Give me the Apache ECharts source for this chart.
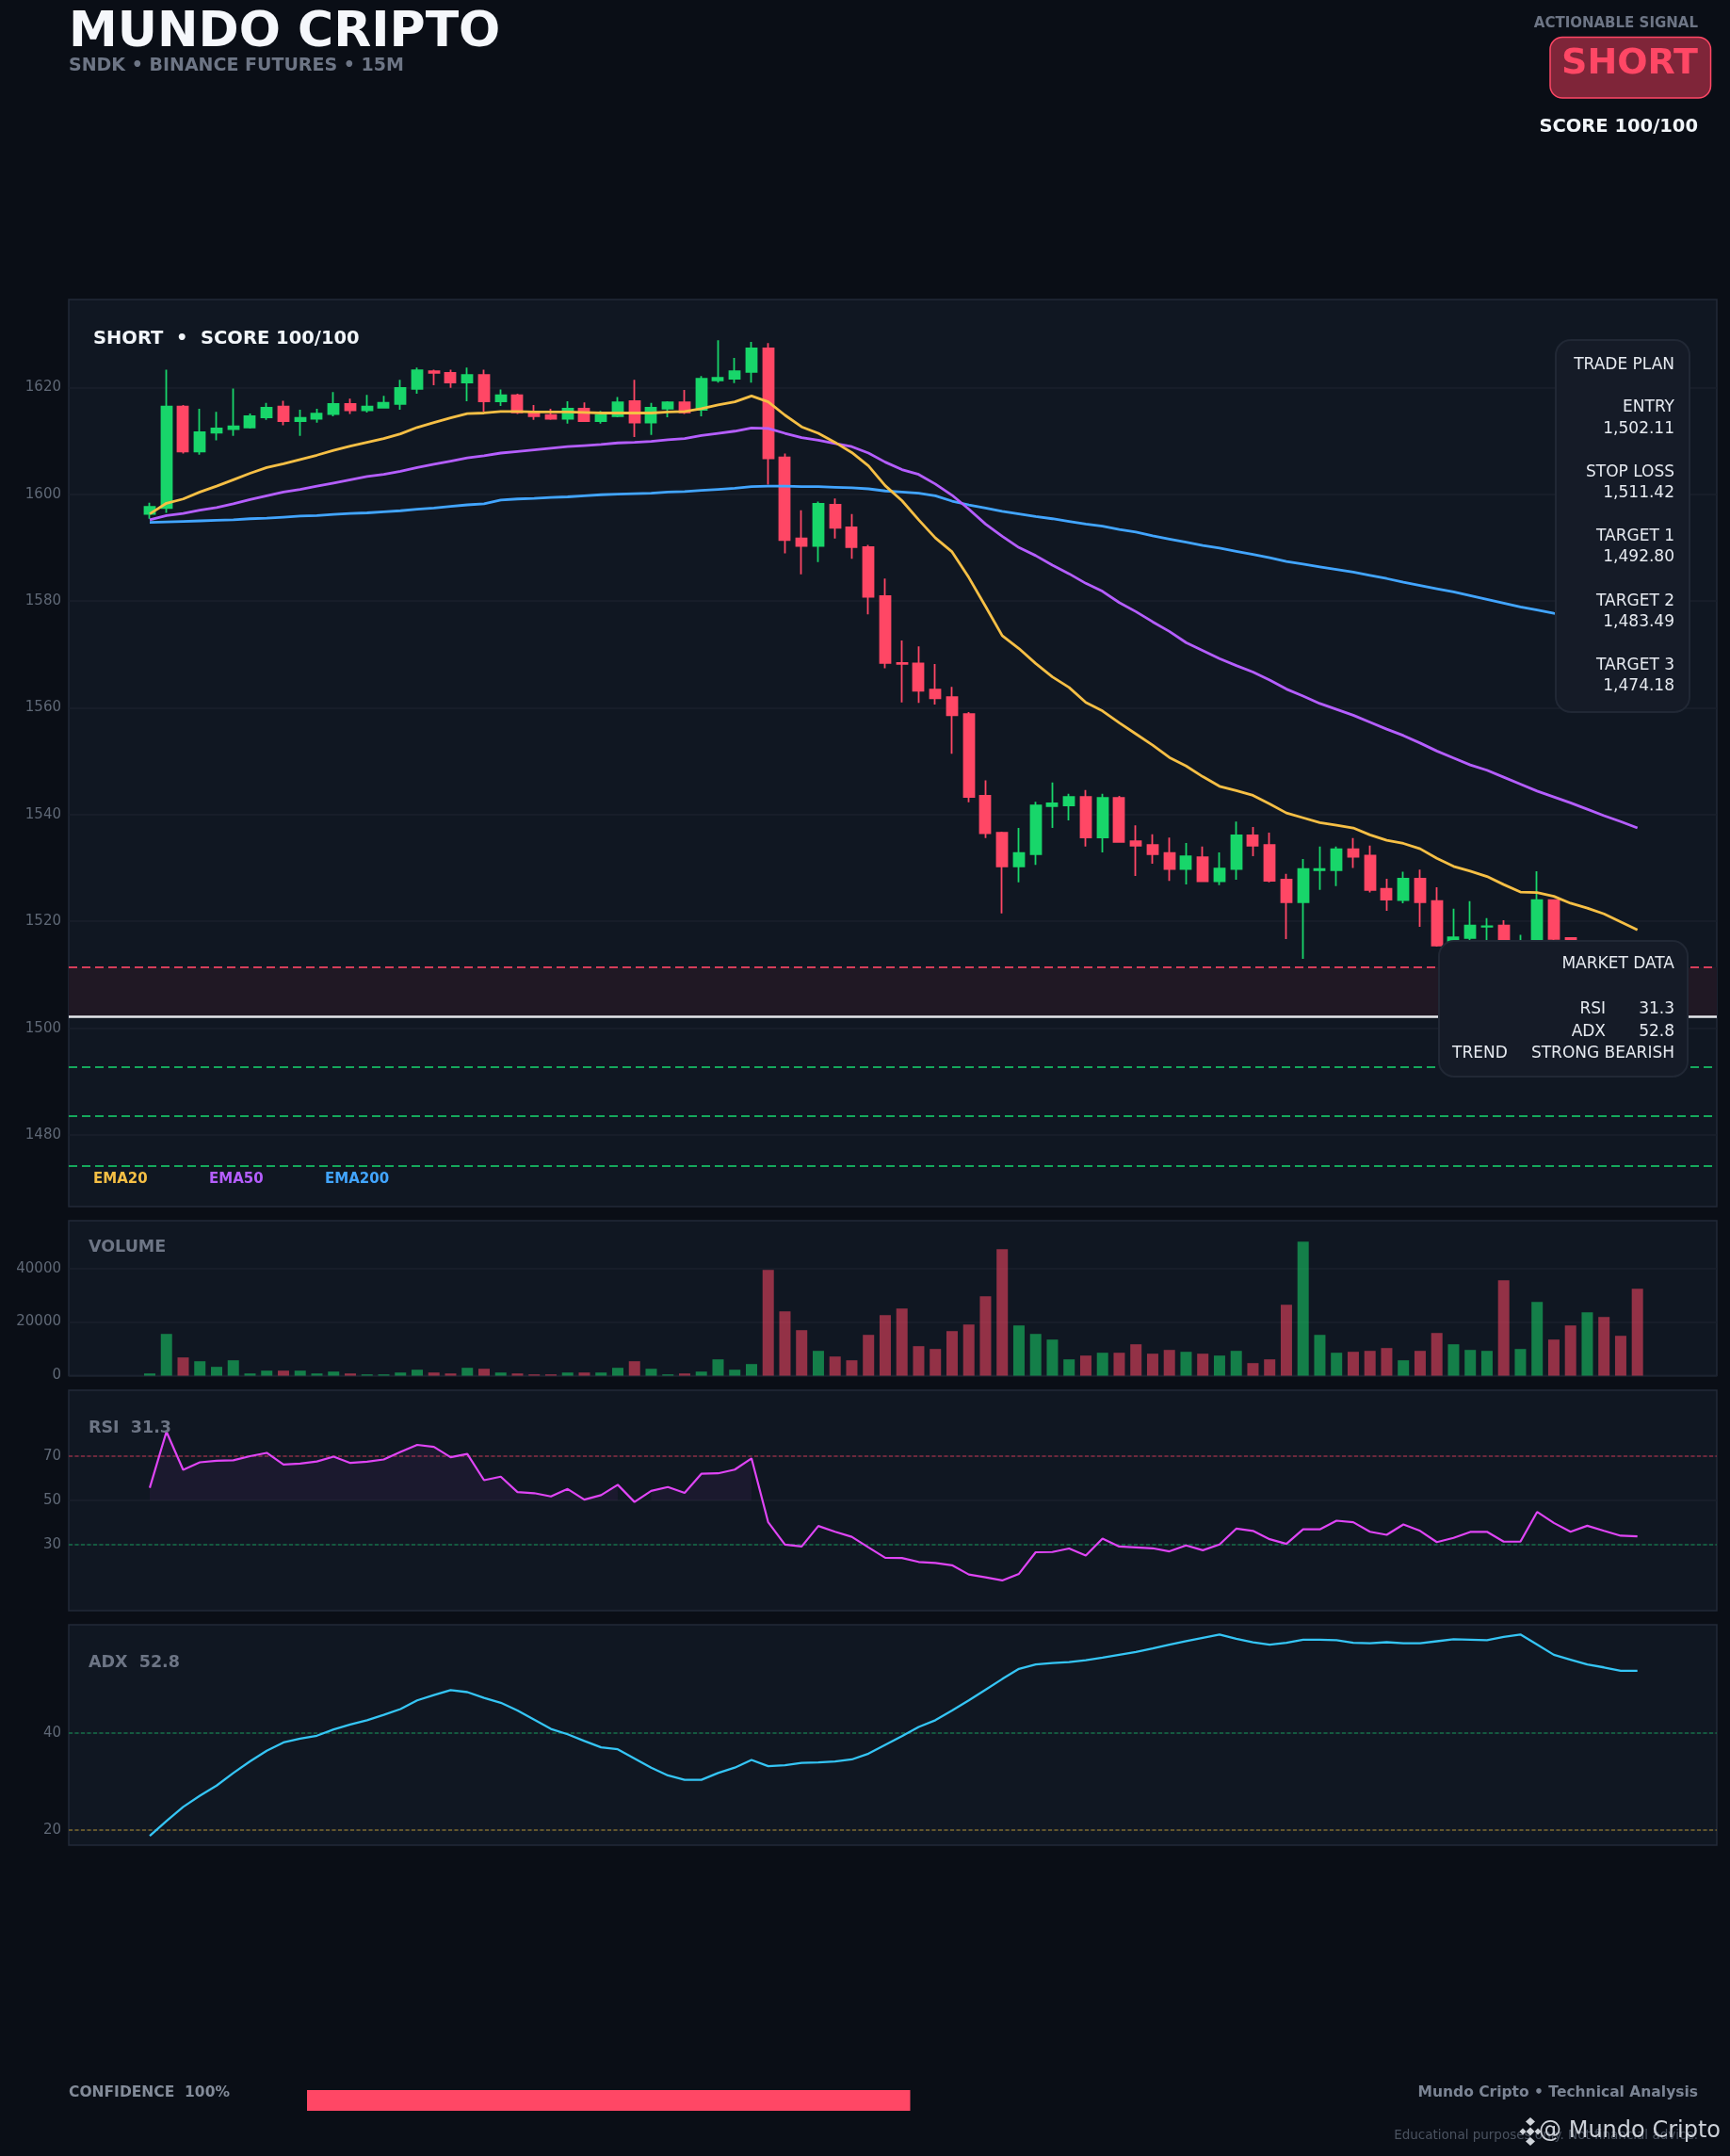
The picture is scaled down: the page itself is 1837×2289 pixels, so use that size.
<!DOCTYPE html>
<html><head><meta charset="utf-8">
<style>html,body{margin:0;padding:0;background:#0a0e16}#c{width:1837px;height:2289px}</style>
<script src="https://cdn.jsdelivr.net/npm/echarts@6/dist/echarts.min.js"></script>
</head><body><div id="c"></div>
<script>
const opens=[1596.3,1597.4,1616.4,1608.0,1611.5,1612.2,1612.5,1614.4,1616.4,1613.7,1614.1,1615.0,1616.9,1615.7,1616.2,1616.9,1619.7,1623.0,1622.7,1620.9,1622.3,1617.4,1618.5,1615.3,1614.8,1614.1,1616.0,1613.7,1614.6,1617.4,1613.4,1616.0,1617.2,1615.8,1621.3,1621.6,1622.9,1627.3,1606.9,1591.7,1590.3,1598.0,1593.8,1590.1,1580.9,1568.4,1568.3,1563.4,1562.0,1558.8,1543.5,1536.6,1530.3,1532.6,1541.6,1541.7,1543.3,1535.7,1543.1,1535.0,1534.3,1532.8,1529.8,1532.0,1527.5,1529.8,1536.1,1534.3,1527.8,1523.6,1529.6,1529.6,1533.5,1532.3,1526.1,1524.0,1528.0,1523.8,1515.6,1516.9,1519.0,1519.2,1514.0,1515.0,1524.0,1516.9,1514.5,1515.0,1513.0,1508.0];
const closes=[1597.6,1616.4,1608.0,1611.6,1612.3,1612.7,1614.6,1616.2,1613.7,1614.3,1615.1,1616.9,1615.7,1616.4,1617.1,1619.9,1623.2,1622.7,1620.9,1622.3,1617.4,1618.5,1615.3,1614.6,1614.1,1616.0,1613.7,1614.8,1617.2,1613.4,1616.2,1617.2,1615.3,1621.6,1621.8,1623.0,1627.3,1606.7,1591.4,1590.3,1598.2,1593.7,1590.1,1580.8,1568.4,1568.2,1563.2,1561.8,1558.6,1543.3,1536.5,1530.3,1532.8,1541.7,1542.1,1543.3,1535.7,1543.1,1534.9,1534.2,1532.6,1529.8,1532.2,1527.5,1529.9,1536.1,1534.2,1527.6,1523.6,1529.8,1529.8,1533.5,1532.1,1525.9,1524.1,1528.0,1523.6,1515.5,1517.0,1519.2,1519.1,1516.5,1515.0,1524.0,1516.7,1515.5,1515.5,1513.0,1508.0,1502.11];
const lows=[1595.4,1596.5,1607.6,1607.4,1610.1,1610.9,1612.3,1613.9,1612.9,1610.9,1613.4,1614.6,1615.0,1615.3,1616.2,1615.8,1618.8,1620.4,1619.9,1617.4,1615.4,1616.5,1615.0,1613.9,1613.9,1613.2,1613.5,1613.2,1614.4,1610.7,1611.1,1614.4,1615.0,1614.6,1620.9,1620.8,1620.9,1601.8,1588.9,1585.0,1587.3,1591.7,1587.9,1577.5,1567.4,1561.0,1560.9,1560.6,1551.4,1542.3,1535.6,1521.5,1527.3,1530.6,1537.5,1538.9,1534.0,1532.9,1534.9,1528.5,1530.8,1527.6,1526.9,1527.5,1526.8,1527.8,1532.2,1527.3,1516.7,1513.0,1525.9,1526.6,1530.0,1525.4,1522.0,1523.4,1519.0,1515.3,1514.0,1516.5,1516.0,1515.0,1513.0,1514.0,1516.4,1515.0,1512.9,1512.1,1507.0,1501.5];
const highs=[1598.4,1623.3,1616.7,1616.0,1615.4,1619.8,1615.1,1617.1,1617.5,1615.8,1616.0,1619.1,1617.9,1618.6,1618.4,1621.4,1623.7,1623.3,1623.3,1623.7,1623.3,1619.6,1618.8,1616.7,1616.0,1617.4,1617.2,1615.6,1618.2,1621.4,1617.1,1617.4,1619.5,1622.1,1628.8,1625.5,1628.5,1628.3,1607.6,1597.0,1598.6,1599.2,1596.3,1590.5,1584.2,1572.6,1571.5,1568.2,1563.9,1559.2,1546.4,1536.8,1537.5,1542.4,1546.0,1543.9,1544.6,1543.9,1543.5,1538.0,1536.3,1535.7,1534.7,1534.0,1532.9,1538.7,1537.7,1536.6,1528.9,1531.7,1534.0,1534.0,1535.6,1534.2,1528.0,1529.3,1529.7,1526.4,1522.4,1523.8,1520.6,1520.2,1517.5,1529.4,1524.0,1517.0,1515.8,1515.9,1513.5,1508.5];
const volumes=[820,15560,6790,5380,3280,5730,820,1870,1870,1870,820,1520,820,470,470,1170,2220,1170,820,2925,2570,1170,820,470,470,1170,1170,1170,2925,5380,2570,470,820,1520,6080,2220,4330,39430,23985,16965,9240,7140,5730,15210,22580,25040,11000,9945,16615,19070,29600,47150,18720,15560,13455,6080,7490,8540,8540,11700,8190,9590,8890,8190,7490,9240,4680,6080,26440,49960,15210,8540,8890,9240,10300,5730,9240,15910,11700,9590,9240,35570,9945,27500,13455,18720,23630,21880,14860,32400];
const ema20=[1596.3,1598.3,1599.1,1600.4,1601.5,1602.7,1603.9,1605.0,1605.7,1606.5,1607.3,1608.2,1609.0,1609.7,1610.4,1611.3,1612.5,1613.4,1614.3,1615.1,1615.2,1615.5,1615.5,1615.4,1615.4,1615.4,1615.3,1615.2,1615.2,1615.2,1615.2,1615.4,1615.5,1616.0,1616.7,1617.3,1618.4,1617.3,1614.8,1612.6,1611.4,1609.7,1607.8,1605.3,1601.6,1598.8,1595.2,1591.8,1589.2,1584.4,1579.0,1573.5,1571.1,1568.3,1565.8,1563.8,1561.0,1559.4,1557.2,1555.1,1553.0,1550.7,1549.1,1547.1,1545.3,1544.5,1543.6,1542.0,1540.3,1539.4,1538.5,1538.0,1537.5,1536.2,1535.2,1534.6,1533.6,1531.8,1530.3,1529.4,1528.4,1526.9,1525.5,1525.4,1524.7,1523.4,1522.5,1521.4,1519.9,1518.4];
const ema50=[1595.2,1596.0,1596.4,1597.0,1597.5,1598.2,1599.0,1599.7,1600.4,1600.9,1601.5,1602.1,1602.7,1603.3,1603.7,1604.3,1605.0,1605.6,1606.2,1606.8,1607.2,1607.7,1608.0,1608.3,1608.6,1608.9,1609.1,1609.3,1609.6,1609.7,1609.9,1610.2,1610.4,1611.0,1611.4,1611.8,1612.4,1612.3,1611.4,1610.6,1610.1,1609.5,1608.9,1607.7,1606.0,1604.6,1603.7,1601.9,1599.8,1597.2,1594.4,1592.1,1590.0,1588.5,1586.7,1585.1,1583.3,1581.8,1579.7,1578.0,1576.1,1574.3,1572.2,1570.7,1569.2,1567.9,1566.7,1565.2,1563.5,1562.2,1560.8,1559.7,1558.6,1557.3,1556.0,1554.8,1553.4,1551.9,1550.6,1549.3,1548.3,1547.0,1545.7,1544.4,1543.3,1542.2,1541.0,1539.8,1538.7,1537.5];
const ema200=[1594.7,1594.8,1594.9,1595.0,1595.1,1595.2,1595.4,1595.5,1595.7,1595.9,1596.0,1596.2,1596.4,1596.5,1596.7,1596.9,1597.2,1597.4,1597.7,1598.0,1598.2,1598.9,1599.1,1599.2,1599.4,1599.5,1599.7,1599.9,1600.0,1600.1,1600.2,1600.4,1600.5,1600.7,1600.9,1601.1,1601.4,1601.5,1601.5,1601.4,1601.4,1601.3,1601.2,1601.0,1600.6,1600.4,1600.2,1599.7,1598.7,1598.0,1597.4,1596.8,1596.3,1595.8,1595.4,1594.9,1594.4,1594.0,1593.4,1592.9,1592.2,1591.6,1591.0,1590.4,1589.9,1589.3,1588.7,1588.1,1587.4,1586.9,1586.4,1585.9,1585.4,1584.8,1584.2,1583.5,1582.9,1582.3,1581.7,1581.0,1580.3,1579.6,1578.9,1578.3,1577.7,1577.2,1576.6,1576.1,1575.5,1575.0];
const rsi=[55.7,81.2,63.9,67.3,68.0,68.2,70.1,71.6,66.3,66.7,67.7,69.9,67.0,67.6,68.6,72.0,75.2,74.3,69.6,71.1,59.2,60.8,53.8,53.3,51.8,55.2,50.4,52.4,57.1,49.3,54.3,56.1,53.4,62.1,62.3,64.0,69.1,40.1,30.0,29.1,38.4,35.8,33.5,28.7,24.0,23.9,22.1,21.6,20.6,16.4,15.1,13.7,16.7,26.5,26.6,28.2,25.0,32.7,29.1,28.7,28.3,26.9,29.6,27.4,30.0,37.2,36.2,32.4,30.3,36.9,36.9,40.8,40.1,35.8,34.4,39.1,36.2,31.1,33.0,35.7,35.8,31.3,31.3,44.8,39.8,35.8,38.5,36.2,34.0,33.7];
const adx=[18.8,21.9,24.8,27.1,29.2,31.8,34.2,36.4,38.1,38.9,39.5,40.8,41.8,42.7,43.8,45.0,46.8,47.9,48.9,48.5,47.3,46.3,44.7,42.8,40.9,39.8,38.4,37.1,36.7,34.8,32.9,31.3,30.4,30.4,31.8,32.9,34.5,33.2,33.4,33.9,34.0,34.2,34.6,35.8,37.6,39.4,41.3,42.7,44.7,46.8,49.0,51.2,53.3,54.2,54.5,54.7,55.1,55.6,56.2,56.8,57.5,58.3,59.0,59.7,60.4,59.5,58.8,58.3,58.7,59.3,59.3,59.2,58.7,58.6,58.8,58.6,58.6,59.0,59.4,59.3,59.2,59.9,60.4,58.3,56.2,55.2,54.2,53.6,52.9,52.9];

const priceTicks=[1480,1500,1520,1540,1560,1580,1600,1620];
const volumeTicks=[0,20000,40000];
const rsiTicks=[30,50,70];
const adxTicks=[20,40];
const ENTRY=1502.11, STOP=1511.42, TP1=1492.80, TP2=1483.49, TP3=1474.18;
const tradePlan=[["TRADE PLAN",388],["ENTRY",433],["1,502.11",455.5],["STOP LOSS",502],["1,511.42",524],["TARGET 1",570],["1,492.80",592],["TARGET 2",638.5],["1,483.49",660.5],["TARGET 3",707],["1,474.18",729]];

const F='"DejaVu Sans"';
const UP='#18d66a',DN='#ff4765',BG='#0a0e16',PANEL='#101722',BORDER='#222a38',GRID='#1a212d',AXT='#5f6876',MUTED='#6d7585';
const xMin=-4.845,xMax=93.75;
const idx=opens.map((_,i)=>i);
const grids=[
 {left:73,width:1750,top:318,height:963},
 {left:73,width:1750,top:1296,height:164.5},
 {left:73,width:1750,top:1476,height:234},
 {left:73,width:1750,top:1725,height:234}
].map(g=>Object.assign(g,{show:true,backgroundColor:PANEL,borderColor:BORDER,borderWidth:1.5,containLabel:false}));
const xAxes=grids.map((_,i)=>({type:'value',gridIndex:i,min:xMin,max:xMax,show:false,splitLine:{show:false}}));
function yA(i,min,max,ticks){return {type:'value',gridIndex:i,min,max,scale:true,
 axisLine:{show:false},axisTick:{show:false,customValues:ticks},
 axisLabel:{customValues:ticks,color:AXT,fontFamily:F,fontSize:15,margin:8,formatter:v=>String(v),showMinLabel:true,showMaxLabel:true},
 splitLine:{show:true,lineStyle:{color:GRID,width:1.5}}};}
const yAxes=[yA(0,1466.6,1636.45,priceTicks),yA(1,0,57800,volumeTicks),yA(2,0,100,rsiTicks),yA(3,16.9,62.4,adxTicks)];
function ml(v,color,width,type){return {yAxis:v,lineStyle:{color,width,type,opacity:1}};}
function line(name,arr,color,width,g,z){return {name,type:'line',xAxisIndex:g,yAxisIndex:g,data:arr.map((v,i)=>[i,v]),showSymbol:false,symbol:'none',silent:true,z:z||4,lineStyle:{color,width},itemStyle:{color},animation:false};}
function tag(text,x,price,fg,border,bg,extra){return {value:[x,price],label:Object.assign({show:true,position:'left',distance:0,formatter:text,color:fg,fontFamily:F,fontWeight:'bold',fontSize:15,lineHeight:16,padding:[3,9,3,9],backgroundColor:bg,borderColor:border,borderWidth:1.5,borderRadius:4},extra||{})};}
const tagX=89.53;
const tags=[
 tag('SL 1,511.42',tagX,STOP,DN,'#c83a55','#111722'),
 tag('ENTRY 1,502.11',tagX,ENTRY,'#f5f7fa','#b8bdc6','#0b1018'),
 tag('TP1 1,492.80',tagX,TP1,UP,'#15a85c','#0f1a20'),
 tag('TP2 1,483.49',tagX,TP2,UP,'#15a85c','#0f1a20'),
 tag('TP3 1,474.18',tagX,TP3,UP,'#15a85c','#0f1a20'),
 tag('INVALIDATION / TRAP ZONE',91.5,1534.55,DN,'#76283c','#331a28',{padding:[5,6,5,7],fontSize:15})
];
const series=[
 {name:'levels',type:'line',xAxisIndex:0,yAxisIndex:0,data:[],silent:true,z:1,
  markArea:{silent:true,z:1,itemStyle:{color:'#201824'},data:[[{yAxis:STOP},{yAxis:ENTRY}]]},
  markLine:{silent:true,z:2,symbol:'none',animation:false,label:{show:false},data:[
   ml(STOP,'#d53d5a',2,[9,5]),ml(ENTRY,'#e5e7eb',2.5,'solid'),ml(TP1,'#15a85c',2,[9,5]),ml(TP2,'#15a85c',2,[9,5]),ml(TP3,'#15a85c',2,[9,5])]}},
 {name:'SNDK',type:'candlestick',xAxisIndex:0,yAxisIndex:0,z:3,silent:true,barWidth:11.5,animation:false,
  data:idx.map(i=>[i,opens[i],closes[i],lows[i],highs[i]]),
  itemStyle:{color:UP,color0:DN,borderColor:UP,borderColor0:DN,borderWidth:1.8}},
 line('EMA200',ema200,'#42a5ff',2.8,0),line('EMA50',ema50,'#b55eff',2.8,0),line('EMA20',ema20,'#f6bf45',2.8,0),
 {name:'tags',type:'scatter',xAxisIndex:0,yAxisIndex:0,z:30,silent:true,symbolSize:1,itemStyle:{opacity:0},data:tags,animation:false},
 {name:'VOLUME',type:'bar',xAxisIndex:1,yAxisIndex:1,barWidth:12,z:3,silent:true,animation:false,
  data:idx.map(i=>({value:[i,volumes[i]],itemStyle:{color:closes[i]>=opens[i]?UP:DN,opacity:0.55}}))},
 {name:'RSIfill',type:'line',xAxisIndex:2,yAxisIndex:2,showSymbol:false,symbol:'none',silent:true,z:2,animation:false,connectNulls:false,
  data:rsi.map((v,i)=>[i,v>50?v:null]),lineStyle:{width:0},areaStyle:{origin:50,color:'rgba(224,64,251,0.08)'}},
 Object.assign(line('RSI',rsi,'#df45f5',2.2,2),{markLine:{silent:true,symbol:'none',animation:false,z:2,label:{show:false},data:[ml(70,'#8a2c42',1.6,[4,2.5]),ml(30,'#146f48',1.6,[4,2.5])]}}),
 Object.assign(line('ADX',adx,'#35c5f5',2.3,3),{markLine:{silent:true,symbol:'none',animation:false,z:2,label:{show:false},data:[ml(40,'#146f48',1.6,[4,2.5]),ml(20,'#7d6a2f',1.6,[4,2.5])]}})
];
function T(text,x,y,font,fill,align,z){return {type:'text',z:z||10,silent:true,style:{text,x,y,font,fill,textAlign:align||'left',textVerticalAlign:'middle'}};}
function R(x,y,w,h,r,fill,stroke,lw,z){return {type:'rect',z:z||9,silent:true,shape:{x,y,width:w,height:h,r},style:{fill,stroke,lineWidth:lw||1.5}};}
function D(cx,cy,rx,ry,fill){return {type:'polygon',z:11,silent:true,shape:{points:[[cx,cy-ry],[cx+rx,cy],[cx,cy+ry],[cx-rx,cy]]},style:{fill}};}
const B=(s)=>`bold ${s}px ${F}`, N=(s)=>`${s}px ${F}`;
const INK='#e6eaf0';
const graphics=[
 T('MUNDO CRIPTO',73,35,B(52),'#f5f7fb'),
 T('SNDK • BINANCE FUTURES • 15M',73,70,B(19),MUTED),
 T('ACTIONABLE SIGNAL',1803,25,B(15),MUTED,'right'),
 R(1646,39.5,170.5,64.5,13,'#7f2539',DN,1.5),
 T('SHORT',1803,68,B(38),DN,'right'),
 T('SCORE 100/100',1803,135,B(19.5),'#f1f5f9','right'),
 T('SHORT  •  SCORE 100/100',99,360,B(19.5),'#f1f5f9'),
 T('EMA20',99,1252,B(15),'#f6bf45'),
 T('EMA50',222,1252,B(15),'#b55eff'),
 T('EMA200',345,1252,B(15),'#42a5ff'),
 T('VOLUME',94,1324,B(17.5),MUTED,'left',31),
 T('RSI  31.3',94,1516,B(17.5),MUTED,'left',31),
 T('ADX  52.8',94,1765,B(17.5),MUTED,'left',31),
 R(1652,361,142,395,16,'#151b27','#212835',2,9),
 ...tradePlan.map(p=>T(p[0],1778,p[1],N(17),INK,'right')),
 R(1528,999,264,144,16,'#151b27','#212835',2,9),
 T('MARKET DATA',1778,1024,N(17),INK,'right'),
 T('RSI',1705,1071.5,N(17),INK,'right'),T('31.3',1778,1071.5,N(17),INK,'right'),
 T('ADX',1705,1095.5,N(17),INK,'right'),T('52.8',1778,1095.5,N(17),INK,'right'),
 T('TREND',1542,1119,N(17),INK),T('STRONG BEARISH',1778,1119,N(17),INK,'right'),
 T('CONFIDENCE  100%',73,2222,B(15.5),'#838b99'),
 {type:'rect',z:9,silent:true,shape:{x:326,y:2219,width:640.5,height:22},style:{fill:DN}},
 T('Mundo Cripto • Technical Analysis',1803,2222,B(15.5),'#7b8494','right'),
 T('Educational purposes only. Not financial advice.',1803,2267,N(13.5),'#4b5360','right'),
 D(1625,2263,4.5,4.5,'#d0d4da'),D(1625,2252.5,5,4.5,'#d0d4da'),D(1625,2273.5,5,4.5,'#d0d4da'),D(1617,2263,3.5,3.5,'#d0d4da'),D(1633,2263,3.5,3.5,'#d0d4da'),
 T('@ Mundo Cripto',1827,2263,N(24),'#cdd1d8','right',12)
];
const chart=echarts.init(document.getElementById('c'),null,{renderer:'canvas',width:1837,height:2289});
chart.setOption({animation:false,backgroundColor:BG,textStyle:{fontFamily:F},tooltip:{show:false},grid:grids,xAxis:xAxes,yAxis:yAxes,series,graphic:{elements:graphics}});
</script></body></html>
